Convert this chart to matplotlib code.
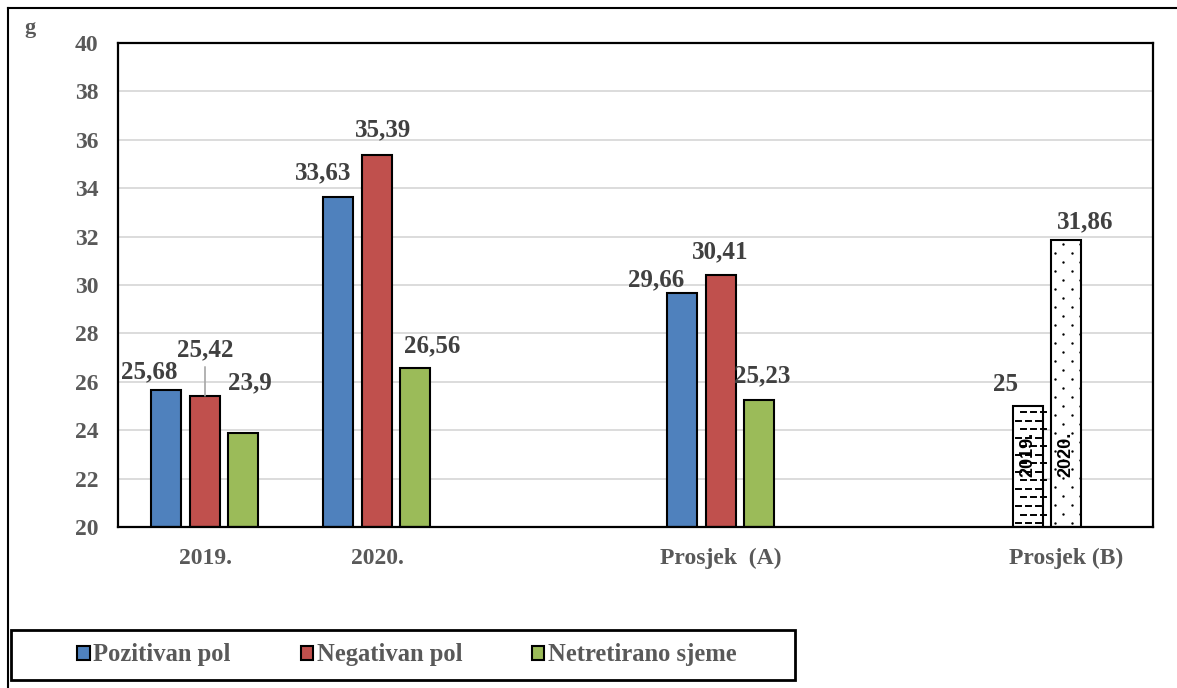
import matplotlib
matplotlib.use("Agg")
import matplotlib.pyplot as plt
import numpy as np
from matplotlib.patches import Rectangle
from matplotlib.lines import Line2D

# --- data -------------------------------------------------------------
groups = ["2019.", "2020.", "Prosjek  (A)"]
pozitivan = [25.68, 33.63, 29.66]
negativan = [25.42, 35.39, 30.41]
netretirano = [23.9, 26.56, 25.23]
series_names = ["Pozitivan pol", "Negativan pol", "Netretirano sjeme"]

prosjek_b_name = "Prosjek (B)"
prosjek_b_years = ["2019.", "2020."]
prosjek_b = [25.0, 31.86]

y_ticks = [20, 22, 24, 26, 28, 30, 32, 34, 36, 38, 40]

# --- style --------------------------------------------------------------
colors = ["#4F81BD", "#C0504D", "#9BBB59"]
txt_gray = "#404040"
font = ["Liberation Serif", "DejaVu Serif"]
plt.rcParams["font.family"] = font
plt.rcParams["font.weight"] = "bold"

W, H = 1177, 688
fig = plt.figure(figsize=(W / 100, H / 100), dpi=100)
ax = fig.add_axes([118 / W, 1 - 527 / H, (1153 - 118) / W, (527 - 43) / H])

# horizontal layout (axis units)
group_x = [87, 259, 603]
b_x = [910, 948]
offsets = [-39, 0, 38]
bw = 30

def fmt(v):
    s = f"{v:.2f}".rstrip("0").rstrip(".")
    return s.replace(".", ",")

# label offsets in pixels (dx, dy) relative to the top centre of each bar
label_off = [
    [(-17, 18), (0, 46), (7, 50)],
    [(-15, 24), (6, 25), (17, 22)],
    [(-26, 13), (-1, 23), (3, 25)],
]

series = [pozitivan, negativan, netretirano]
for si, vals in enumerate(series):
    xs = [g + offsets[si] for g in group_x]
    ax.bar(xs, np.array(vals) - 20, bottom=20, width=bw, color=colors[si],
           edgecolor="black", linewidth=1.5, zorder=3)
    for gi, (x, v) in enumerate(zip(xs, vals)):
        dx, dy = label_off[gi][si]
        kw = {}
        if gi == 0 and si == 1:
            kw["arrowprops"] = dict(arrowstyle="-", color="#a6a6a6", lw=1.2,
                                    shrinkA=2, shrinkB=0)
        ax.annotate(fmt(v), xy=(x, v), xytext=(dx, dy), textcoords="offset pixels",
                    ha="center", va="center", fontsize=18, fontweight="bold",
                    color=txt_gray, zorder=5, **kw)

# Prosjek (B): white hatched bars
bars_b = ax.bar(b_x, np.array(prosjek_b) - 20, bottom=20, width=bw, color="white",
                edgecolor="black", linewidth=1.5, zorder=3)

px_per_unit = (527 - 43) / 20.0
# dashed fill for the first bar
p0 = bars_b[0]
x0, w0 = p0.get_x(), p0.get_width()
row = 0
yy = 20 + 4 / px_per_unit
while yy < prosjek_b[0]:
    start = x0 + 3 + (5 if row % 2 else 0)
    xx = start
    while xx < x0 + w0:
        ln = Line2D([xx, xx + 5], [yy, yy], color="black", lw=1.4, zorder=4)
        ln.set_clip_path(p0)
        ax.add_line(ln)
        xx += 10
    yy += 8.5 / px_per_unit
    row += 1

# dotted fill for the second bar
p1 = bars_b[1]
x1, w1 = p1.get_x(), p1.get_width()
dots_x, dots_y = [], []
row = 0
yy = 20 + 4 / px_per_unit
while yy < prosjek_b[1]:
    start = x1 + 4 + (8 if row % 2 else 0)
    xx = start
    while xx < x1 + w1:
        dots_x.append(xx)
        dots_y.append(yy)
        xx += 17
    yy += 9 / px_per_unit
    row += 1
ax.scatter(dots_x, dots_y, s=3, color="black", zorder=4, clip_path=p1, linewidths=0)

for x, v, yr, dx, dy in zip(b_x, prosjek_b, prosjek_b_years, [-23, 19], [21, 18]):
    ax.annotate(fmt(v), xy=(x, v), xytext=(dx, dy), textcoords="offset pixels",
                ha="center", va="center", fontsize=18, fontweight="bold",
                color=txt_gray, zorder=5)
    ax.text(x, 23.0, yr, rotation=90, ha="center", va="center", fontsize=13,
            fontweight="bold", color="black", zorder=5,
            family=["Liberation Sans", "DejaVu Sans"])

# axes
ax.set_xlim(0, 1035)
ax.set_ylim(20, 40)
ax.set_yticks(y_ticks)
ax.set_xticks(group_x + [b_x[1]])
ax.set_xticklabels(groups + [prosjek_b_name])
ax.tick_params(axis="both", length=0, labelsize=17, labelcolor="#595959")
ax.tick_params(axis="x", pad=15)
ax.tick_params(axis="y", pad=14)
for lab in ax.get_xticklabels() + ax.get_yticklabels():
    lab.set_fontweight("bold")
ax.grid(axis="y", color="#d9d9d9", lw=1.3, zorder=0)
ax.set_axisbelow(True)
for s in ax.spines.values():
    s.set_color("black")
    s.set_linewidth(1.6)
    s.set_zorder(6)

fig.text(30 / W, 1 - 28 / H, "g", ha="center", va="center", fontsize=16,
         fontweight="bold", color="#595959")

# outer frame lines
fig.add_artist(Line2D([8 / W, 1.0], [1 - 8 / H, 1 - 8 / H], transform=fig.transFigure,
                      color="black", lw=1.5))
fig.add_artist(Line2D([8 / W, 8 / W], [0, 1 - 8 / H], transform=fig.transFigure,
                      color="black", lw=1.5))

# legend box
fig.add_artist(Rectangle((11 / W, 1 - 680 / H), (795 - 11) / W, 50 / H,
                         transform=fig.transFigure, fill=False, edgecolor="black", lw=2))
handles = [Rectangle((0, 0), 1, 1, facecolor=c, edgecolor="black", lw=1.5) for c in colors]
leg = fig.legend(handles, series_names, loc="center", bbox_to_anchor=(407 / W, 1 - 655 / H),
                 ncol=3, frameon=False, handlelength=0.5, handleheight=0.5,
                 handletextpad=0.15, columnspacing=2.85,
                 prop={"family": font, "weight": "bold", "size": 17.7})
for t in leg.get_texts():
    t.set_color("#595959")

fig.savefig("out.png", dpi=100)
